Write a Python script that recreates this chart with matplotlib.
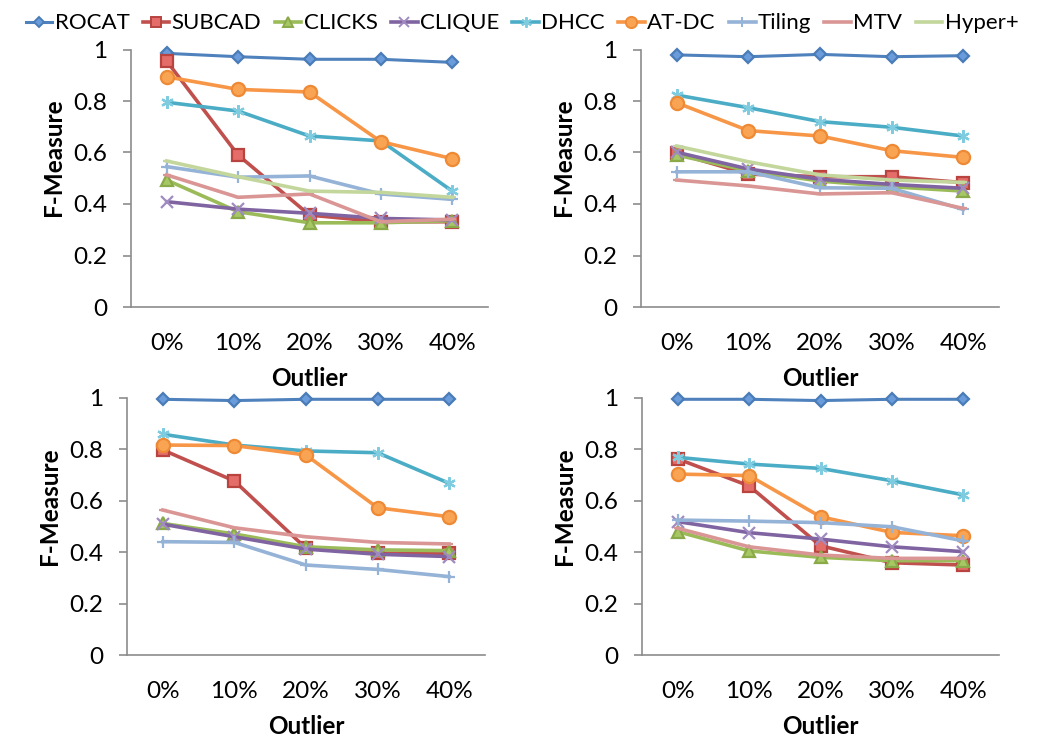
import numpy as np
import matplotlib.pyplot as plt
from matplotlib.lines import Line2D

plt.rcParams['font.family'] = ['Lato', 'DejaVu Sans']

outlier = ['0%', '10%', '20%', '30%', '40%']
methods = ['ROCAT', 'SUBCAD', 'CLICKS', 'CLIQUE', 'DHCC', 'AT-DC', 'Tiling', 'MTV', 'Hyper+']

# F-measure per method, one row per dataset (top-left, top-right, bottom-left, bottom-right)
rocat = [[0.985, 0.972, 0.962, 0.962, 0.950],
         [0.979, 0.972, 0.981, 0.972, 0.976],
         [0.995, 0.990, 0.995, 0.995, 0.995],
         [0.995, 0.995, 0.990, 0.995, 0.995]]
subcad = [[0.955, 0.590, 0.357, 0.331, 0.331],
          [0.597, 0.516, 0.506, 0.506, 0.483],
          [0.798, 0.677, 0.415, 0.396, 0.396],
          [0.763, 0.658, 0.425, 0.359, 0.350]]
clicks = [[0.493, 0.370, 0.327, 0.327, 0.335],
          [0.590, 0.529, 0.489, 0.467, 0.450],
          [0.512, 0.471, 0.421, 0.409, 0.406],
          [0.480, 0.405, 0.380, 0.367, 0.367]]
clique = [[0.409, 0.380, 0.364, 0.344, 0.338],
          [0.601, 0.536, 0.496, 0.476, 0.461],
          [0.509, 0.460, 0.412, 0.392, 0.383],
          [0.519, 0.476, 0.451, 0.421, 0.402]]
dhcc = [[0.795, 0.761, 0.664, 0.645, 0.450],
        [0.823, 0.774, 0.720, 0.698, 0.664],
        [0.859, 0.817, 0.794, 0.787, 0.668],
        [0.769, 0.743, 0.726, 0.678, 0.623]]
atdc = [[0.894, 0.845, 0.835, 0.642, 0.576],
        [0.793, 0.685, 0.664, 0.607, 0.581],
        [0.817, 0.815, 0.778, 0.573, 0.538],
        [0.704, 0.698, 0.538, 0.477, 0.464]]
tiling = [[0.545, 0.504, 0.509, 0.439, 0.418],
          [0.525, 0.525, 0.463, 0.461, 0.379],
          [0.441, 0.438, 0.350, 0.333, 0.305],
          [0.525, 0.521, 0.515, 0.499, 0.444]]
mtv = [[0.513, 0.426, 0.439, 0.331, 0.341],
       [0.493, 0.470, 0.439, 0.444, 0.383],
       [0.564, 0.495, 0.460, 0.438, 0.432],
       [0.493, 0.421, 0.389, 0.376, 0.376]]
hyper = [[0.567, 0.506, 0.450, 0.445, 0.426],
         [0.625, 0.564, 0.513, 0.493, 0.484],
         None,
         None]

series = [rocat, subcad, clicks, clique, dhcc, atdc, tiling, mtv, hyper]

# line colour, marker, marker size, marker face, marker edge, line width
styles = [
    ('#4F81BD', 'D', 6.5, '#6A9BDA', '#4A7CB8', 2.2),
    ('#C0504D', 's', 8, '#E46C69', '#B8433F', 2.6),
    ('#9BBB59', '^', 8, '#A6C764', '#8AAA4A', 2.6),
    ('#8064A2', 'x', 8, '#A08BC0', '#A08BC0', 2.6),
    ('#4BACC6', (6, 2, 0), 9, '#7FCCE0', '#7FCCE0', 2.6),
    ('#F79646', 'o', 9.5, '#F9A452', '#EE8A36', 2.6),
    ('#95B3D7', '+', 8, '#95B3D7', '#95B3D7', 2.6),
    ('#D99694', '_', 6, '#D99694', '#D99694', 2.6),
    ('#C3D69B', '_', 6, '#C3D69B', '#C3D69B', 2.6),
]

W, H = 1044, 738
fig = plt.figure(figsize=(W / 100, H / 100), dpi=100)

# plot areas in pixels: left, top, right, bottom
boxes = [(131, 49.5, 488, 307), (641, 49.5, 999, 307),
         (127, 398, 485, 655), (642, 398, 999, 655)]

x = np.arange(len(outlier))
for k, (l, t, r, b) in enumerate(boxes):
    ax = fig.add_axes([l / W, 1 - b / H, (r - l) / W, (b - t) / H])
    for name, data, st in zip(methods, series, styles):
        if data[k] is None:
            continue
        col, mk, ms, mfc, mec, lw = st
        ax.plot(x, data[k], color=col, lw=lw, marker=mk, ms=ms,
                mfc=mfc, mec=mec, mew=1.6, clip_on=False)
    ax.set_xlim(-0.5, 4.5)
    ax.set_ylim(0, 1)
    ax.set_yticks(np.arange(0, 1.01, 0.2))
    ax.set_yticklabels(['0', '0.2', '0.4', '0.6', '0.8', '1'])
    ax.set_xticks(x)
    ax.set_xticklabels(outlier)
    ax.tick_params(axis='y', direction='out', length=6, width=1.2,
                   color='#8C8C8C', pad=11, labelsize=17.5)
    ax.tick_params(axis='x', length=0, pad=19, labelsize=17.5)
    for s in ['top', 'right']:
        ax.spines[s].set_visible(False)
    for s in ['left', 'bottom']:
        ax.spines[s].set_color('#8C8C8C')
        ax.spines[s].set_linewidth(1.2)
    ax.set_xlabel('Outlier', fontsize=17.5, fontweight='bold', labelpad=9)
    ax.set_ylabel('F-Measure', fontsize=17.5, fontweight='bold')
    ax.yaxis.set_label_coords(-0.185, 0.58)

handles = []
for name, st in zip(methods, styles):
    col, mk, ms, mfc, mec, lw = st
    handles.append(Line2D([], [], color=col, lw=lw, marker=mk, ms=ms * 0.85,
                          mfc=mfc, mec=mec, mew=1.4))
fig.legend(handles, methods, loc='upper center', bbox_to_anchor=(0.5, 1.0),
           ncol=9, frameon=False, fontsize=16, handlelength=1.2,
           handletextpad=0.1, columnspacing=0.6, borderaxespad=0.2)

fig.savefig('out.png', dpi=100)
